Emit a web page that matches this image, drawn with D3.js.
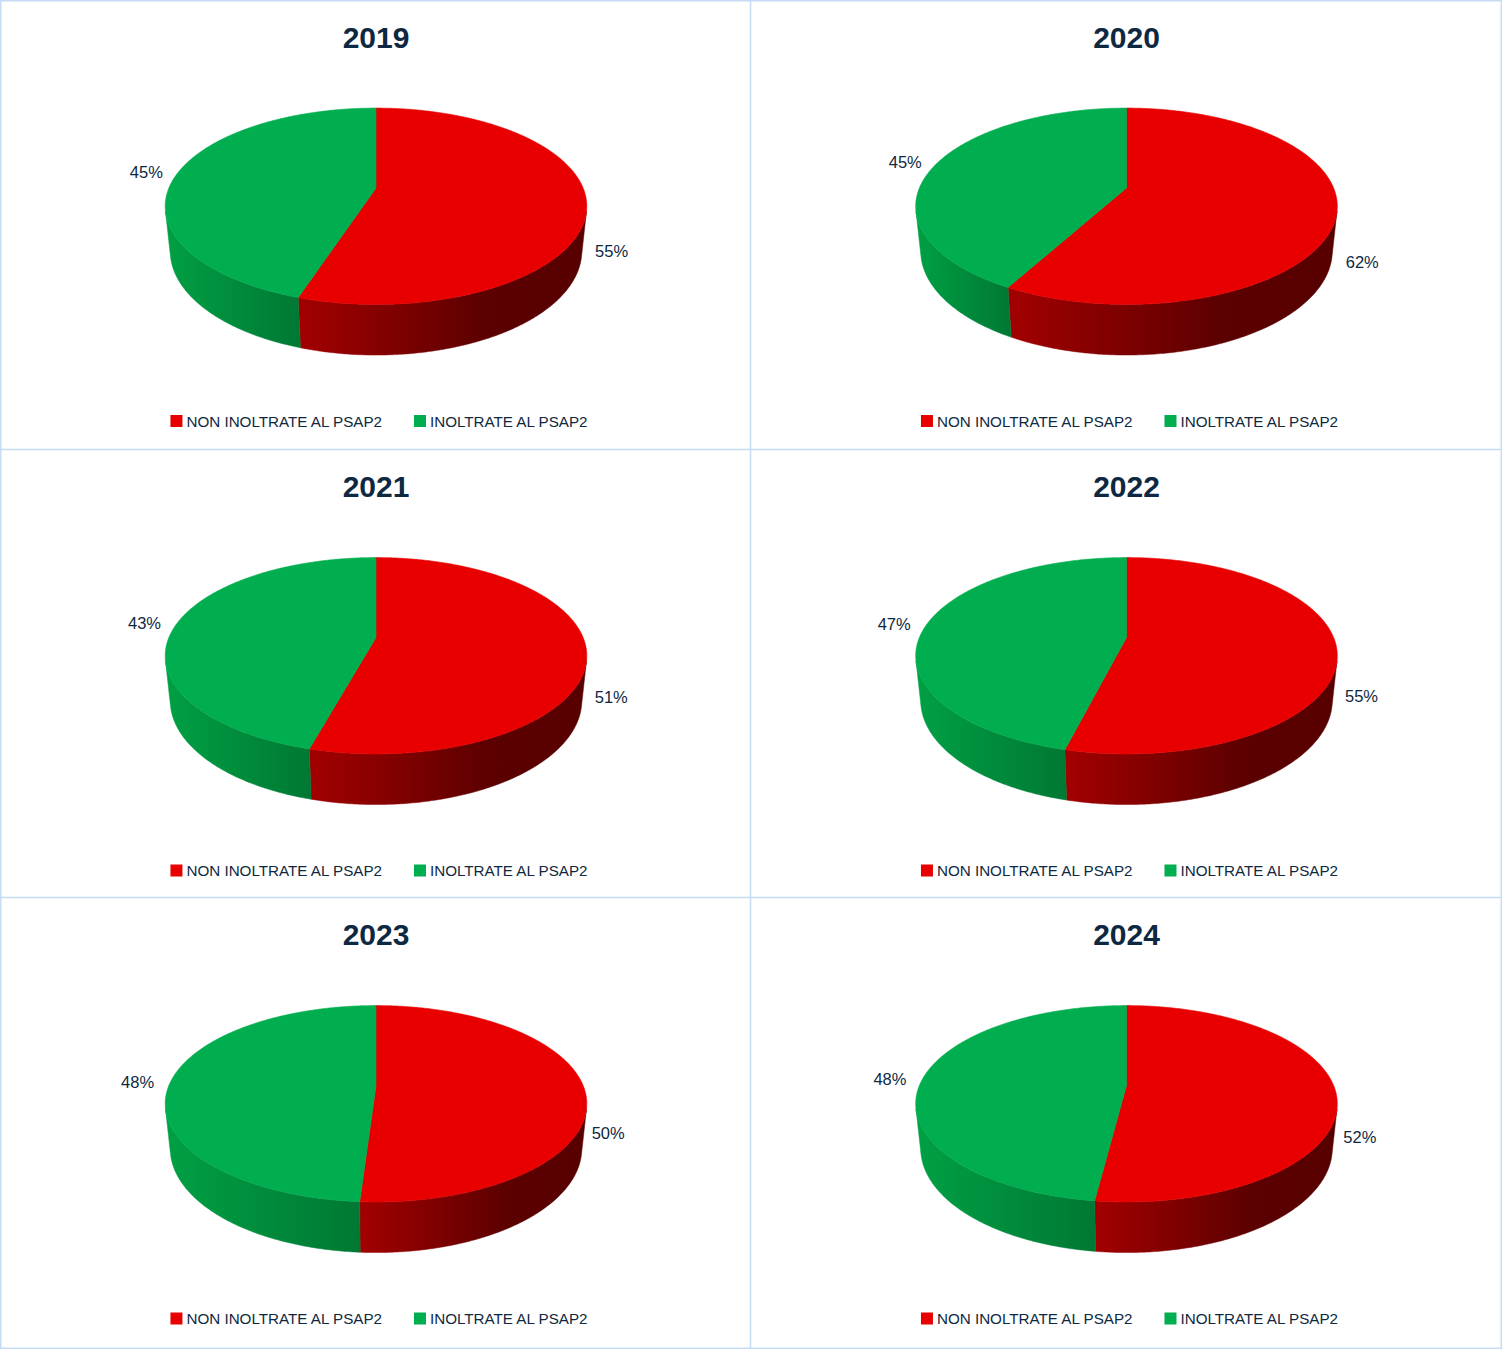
<!DOCTYPE html>
<html>
<head>
<meta charset="utf-8">
<script src="https://cdn.jsdelivr.net/npm/d3@7"></script>
<style>
  body { margin: 0; background: #fff; }
  text { font-family: "Liberation Sans", Arial, sans-serif; fill: #0e2841; }
</style>
</head>
<body>
<svg id="chart" width="1502" height="1349"></svg>
<script>
// data
var years = ["2019", "2020", "2021", "2022", "2023", "2024"];
var nonInoltrate = [55, 62, 51, 55, 50, 52];
var inoltrate = [45, 45, 43, 47, 48, 48];
var categories = ["NON INOLTRATE AL PSAP2", "INOLTRATE AL PSAP2"];

var svg = d3.select("#chart");
var defs = svg.append("defs");

var panelW = 750.5;
var panelY = [0, 449.5, 897.5];

// colours
var topColor = d3.scaleOrdinal().domain(categories).range(["#e80000", "#00ad4f"]);
var sideStops = {
  "NON INOLTRATE AL PSAP2": [[0, "#a30000"], [0.65, "#5c0000"], [1, "#570000"]],
  "INOLTRATE AL PSAP2": [[0, "#00a044"], [1, "#007833"]]
};

// perspective camera for the 3d pie (unit radius)
var sa = 0.4576, ca = Math.sqrt(1 - sa * sa);
var D = 4.78, F = 990, depth = 0.245;
var thetaVis = Math.acos(-1 / (D * ca));

function project(cx, cy, theta, k, h) {
  var x = k * Math.sin(theta), z = k * Math.cos(theta);
  var v = h * ca + z * sa;
  var w = D - h * sa + z * ca;
  return [cx + F * x / w, cy - F * v / w];
}

var pie = d3.pie().sort(null).value(function(d) { return d.value; });
var line = d3.line();

years.forEach(function(year, i) {
  var col = i % 2, row = Math.floor(i / 2);
  var px = col * panelW, py = panelY[row];
  var cx = px + 376, cy = py + 188;
  var g = svg.append("g");

  var slices = pie([
    {cat: categories[0], value: nonInoltrate[i]},
    {cat: categories[1], value: inoltrate[i]}
  ]);

  // title
  g.append("text")
    .attr("x", px + 376).attr("y", py + 47.5)
    .attr("text-anchor", "middle")
    .style("font-size", "30px").style("font-weight", "bold")
    .text(year);

  // side walls (only front part is visible)
  slices.forEach(function(s, j) {
    var a = Math.max(s.startAngle, thetaVis), b = Math.min(s.endAngle, 2 * Math.PI - thetaVis);
    if (a >= b) return;
    var n = Math.max(2, Math.ceil((b - a) / 0.01));
    var pts = [];
    for (var t = 0; t <= n; t++) pts.push(project(cx, cy, a + (b - a) * t / n, 1, 0));
    for (var t = n; t >= 0; t--) pts.push(project(cx, cy, a + (b - a) * t / n, 1, -depth));
    var xs = d3.extent(pts, function(p) { return p[0]; });
    var id = "side-" + i + "-" + j;
    var grad = defs.append("linearGradient").attr("id", id)
      .attr("gradientUnits", "userSpaceOnUse")
      .attr("x1", xs[0]).attr("x2", xs[1]).attr("y1", 0).attr("y2", 0);
    sideStops[s.data.cat].forEach(function(st) {
      grad.append("stop").attr("offset", st[0]).attr("stop-color", st[1]);
    });
    g.append("path").attr("d", line(pts) + "Z")
      .attr("fill", "url(#" + id + ")")
      .attr("stroke", "url(#" + id + ")").attr("stroke-width", 0.5);
  });

  // top face
  slices.forEach(function(s) {
    var n = Math.ceil((s.endAngle - s.startAngle) / 0.01);
    var pts = [project(cx, cy, 0, 0, 0)];
    for (var t = 0; t <= n; t++) {
      pts.push(project(cx, cy, s.startAngle + (s.endAngle - s.startAngle) * t / n, 1, 0));
    }
    g.append("path").attr("d", line(pts) + "Z")
      .attr("fill", topColor(s.data.cat))
      .attr("stroke", topColor(s.data.cat)).attr("stroke-width", 0.6);
  });

  // data labels
  slices.forEach(function(s) {
    var mid = (s.startAngle + s.endAngle) / 2;
    var h = Math.cos(mid) > 0 ? 0 : -depth;
    var p = project(cx, cy, mid, 1.15, h);
    g.append("text")
      .attr("x", p[0] - 2).attr("y", p[1])
      .attr("text-anchor", "middle").attr("dominant-baseline", "central")
      .style("font-size", "16.5px")
      .text(s.data.value + "%");
  });

  // legend
  var legend = g.append("g");
  var lx = 0;
  categories.forEach(function(c, j) {
    var item = legend.append("g").attr("transform", "translate(" + lx + ",0)");
    item.append("rect").attr("x", 0).attr("y", -6).attr("width", 12).attr("height", 12)
      .attr("fill", topColor(c));
    var t = item.append("text").attr("x", 16).attr("y", 0)
      .attr("dominant-baseline", "central")
      .style("font-size", "15.2px")
      .text(c);
    lx += 16 + t.node().getComputedTextLength() + 32;
  });
  var legendW = lx - 32;
  legend.attr("transform", "translate(" + (px + 379 - legendW / 2) + "," + (py + 421) + ")");
});

// panel borders
var borderColor = "#c6dcf4";
svg.append("rect").attr("x", 0.75).attr("y", 0.75).attr("width", 1500.5).attr("height", 1347.5)
  .attr("fill", "none").attr("stroke", borderColor).attr("stroke-width", 1.5);
svg.append("line").attr("x1", panelW).attr("x2", panelW).attr("y1", 0).attr("y2", 1349)
  .attr("stroke", borderColor).attr("stroke-width", 1.5);
[449.5, 897.5].forEach(function(y) {
  svg.append("line").attr("x1", 0).attr("x2", 1502).attr("y1", y).attr("y2", y)
    .attr("stroke", borderColor).attr("stroke-width", 1.5);
});
</script>
</body>
</html>
